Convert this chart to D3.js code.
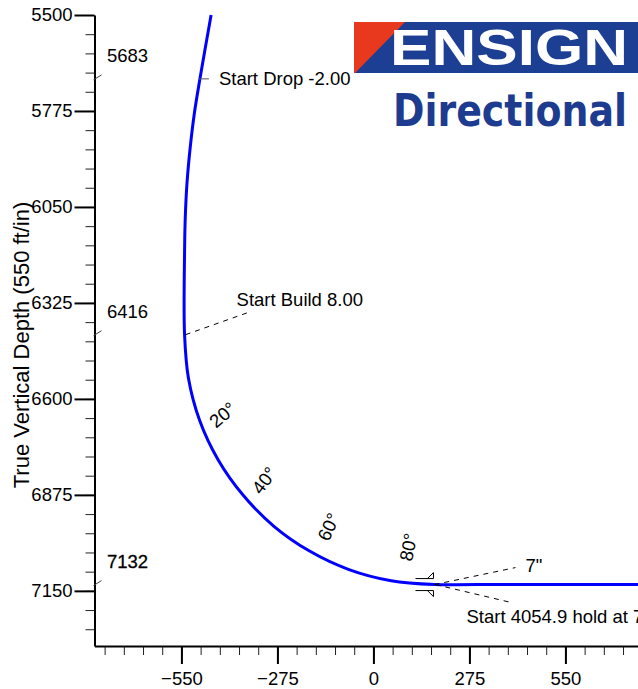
<!DOCTYPE html>
<html>
<head>
<meta charset="utf-8">
<script src="https://cdn.jsdelivr.net/npm/d3@7"></script>
<style>
  body { margin: 0; background: #fff; }
  text { font-family: "Liberation Sans", Arial, sans-serif; }
</style>
</head>
<body>
<div id="chart"></div>
<script>
// well path: vertical section (ft) vs true vertical depth (ft)
const pathVS  = [-465, -497, -513, -525, -534, -539, -541, -541, -530, -498, -445, -373, -285, -183, -70, 51, 175, 300, 4230];
const pathTVD = [5500, 5683, 5782, 5881, 5981, 6081, 6181, 6416, 6540, 6661, 6774, 6876, 6965, 7036, 7089, 7121, 7132, 7132, 7132];

// inclination marks along the build
const incLabels = ["20°", "40°", "60°", "80°"];
const incAngle  = [20, 40, 60, 80];
const incVS     = [-498, -373, -183, 51];
const incTVD    = [6661, 6876, 7036, 7121];

// TVD of the plan points, flagged on the depth axis
const keyTVD = [5683, 6416, 7132];

// annotations
const noteText = ["Start Drop -2.00", "Start Build 8.00", "7\"", "Start 4054.9 hold at 7132.0 TVD"];
const noteVS   = [-497, -541, 172, 175];
const noteTVD  = [5683, 6416, 7132, 7132];
const casingVS = 172, casingTVD = 7132;

const yTicks = [5500, 5775, 6050, 6325, 6600, 6875, 7150];
const xTicks = [-550, -275, 0, 275, 550];

const width = 638, height = 689;
const fs = 18.5;

const svg = d3.select("#chart").append("svg")
  .attr("width", width)
  .attr("height", height);

const x = d3.scaleLinear().domain([-799, 1000]).range([94.5, 94.5 + 1799 * 96 / 275]);
const y = d3.scaleLinear().domain([5500, 7308]).range([15, 646]);

// ---- logo ----
const logo = svg.append("g");
logo.append("rect").attr("x", 354).attr("y", 22).attr("width", 300).attr("height", 51).attr("fill", "#1d3f93");
logo.append("path").attr("d", "M354,22H405L355,73H354Z").attr("fill", "#e8391f");
logo.append("text")
  .attr("x", 390).attr("y", 65)
  .attr("fill", "#fff")
  .attr("font-weight", "bold")
  .attr("font-size", 50)
  .attr("textLength", 238)
  .attr("lengthAdjust", "spacingAndGlyphs")
  .text("ENSIGN");
logo.append("text")
  .attr("x", 393).attr("y", 126)
  .attr("fill", "#1d3c8f")
  .attr("font-weight", "bold")
  .attr("font-size", 44)
  .style("font-family", "'Liberation Sans Narrow', 'DejaVu Sans Condensed', Arial, sans-serif")
  .attr("textLength", 234)
  .attr("lengthAdjust", "spacingAndGlyphs")
  .text("Directional");

// ---- axes ----
const yMinor = svg.append("g")
  .attr("transform", `translate(${x.range()[0]},0)`)
  .call(d3.axisLeft(y).tickValues(d3.range(5500, 7308, 55)).tickSize(9).tickSizeOuter(0).tickFormat(""));
yMinor.select(".domain").remove();
yMinor.selectAll("line").attr("stroke", "#222");

const yAxis = svg.append("g")
  .attr("transform", `translate(${x.range()[0]},0)`)
  .call(d3.axisLeft(y).tickValues(yTicks).tickSize(20).tickSizeOuter(0).tickPadding(2).tickFormat(d3.format("d")));
yAxis.selectAll("line").attr("stroke-width", 2);
yAxis.select(".domain").attr("stroke-width", 2);
yAxis.selectAll("text").attr("font-size", fs).attr("fill", "#000").style("font-family", "'Liberation Sans', Arial, sans-serif");

const xMinor = svg.append("g")
  .attr("transform", `translate(0,${y.range()[1]})`)
  .call(d3.axisBottom(x).tickValues(d3.range(-770, 1000, 55)).tickSize(9).tickSizeOuter(0).tickFormat(""));
xMinor.select(".domain").remove();
xMinor.selectAll("line").attr("stroke", "#222");

const xAxis = svg.append("g")
  .attr("transform", `translate(0,${y.range()[1]})`)
  .call(d3.axisBottom(x).tickValues(xTicks).tickSize(18).tickSizeOuter(0).tickPadding(8).tickFormat(d3.format("d")));
xAxis.selectAll("line").attr("stroke-width", 2);
xAxis.select(".domain").attr("stroke-width", 2);
xAxis.selectAll("text").attr("font-size", fs).attr("fill", "#000").style("font-family", "'Liberation Sans', Arial, sans-serif");

svg.append("text")
  .attr("transform", "translate(29,345) rotate(-90)")
  .attr("text-anchor", "middle")
  .attr("font-size", 22)
  .text("True Vertical Depth (550 ft/in)");

// ---- plan point flags on the depth axis ----
keyTVD.forEach(v => {
  svg.append("line")
    .attr("x1", x.range()[0] - 1).attr("y1", y(v) + 1)
    .attr("x2", x.range()[0] + 7).attr("y2", y(v) - 4)
    .attr("stroke", "#444").attr("stroke-width", 1);
  svg.append("text")
    .attr("x", 107).attr("y", y(v) - 17)
    .attr("font-size", fs)
    .attr("stroke", v === 7132 ? "#000" : "none")
    .attr("stroke-width", 0.3)
    .text(v);
});

// ---- well path ----
const pts = pathVS.map((v, i) => [x(v), y(pathTVD[i])]);
svg.append("path")
  .attr("d", d3.line().curve(d3.curveCatmullRom.alpha(0.5))(pts))
  .attr("fill", "none")
  .attr("stroke", "#0000ff")
  .attr("stroke-width", 3);

// inclination labels, nudged toward the centre of the build
incLabels.forEach((t, i) => {
  const a = incAngle[i];
  const cx = x(incVS[i]) + 25 - a * 0.1;
  const cy = y(incTVD[i]) + 4 - a * 0.47;
  svg.append("text")
    .attr("transform", `translate(${cx},${cy}) rotate(${-(27 + a * 0.65)})`)
    .attr("text-anchor", "middle")
    .attr("dy", "0.35em")
    .attr("font-size", fs)
    .text(t);
});

// casing shoe symbol
const cx0 = x(casingVS), cy0 = y(casingTVD);
svg.append("path")
  .attr("d", `M${cx0 - 18},${cy0 - 6}H${cx0}V${cy0 - 12}L${cx0 - 6},${cy0 - 6}` +
             `M${cx0 - 18},${cy0 + 6}H${cx0}V${cy0 + 12}L${cx0 - 6},${cy0 + 6}`)
  .attr("fill", "none")
  .attr("stroke", "#000")
  .attr("stroke-width", 1);

// annotation leaders and texts (pixel offsets from the anchor point)
const noteLayout = [
  { lx: 9,  ly: 0,   tx: 19, ty: 6,   dash: null },
  { lx: 63, ly: -22, tx: 52, ty: -29, dash: "5,5" },
  { lx: 82, ly: -17, tx: 92, ty: -13, dash: "5,5" },
  { lx: 77, ly: 18,  tx: 32, ty: 38,  dash: "5,5" }
];
noteText.forEach((t, i) => {
  const px = x(noteVS[i]), py = y(noteTVD[i]), L = noteLayout[i];
  svg.append("line")
    .attr("x1", px + (i === 0 ? -1 : 1)).attr("y1", py)
    .attr("x2", px + L.lx).attr("y2", py + L.ly)
    .attr("stroke", i === 0 ? "#555" : "#000")
    .attr("stroke-width", 1)
    .attr("stroke-dasharray", L.dash);
  svg.append("text")
    .attr("x", px + L.tx).attr("y", py + L.ty)
    .attr("font-size", fs)
    .text(t);
});
</script>
</body>
</html>
